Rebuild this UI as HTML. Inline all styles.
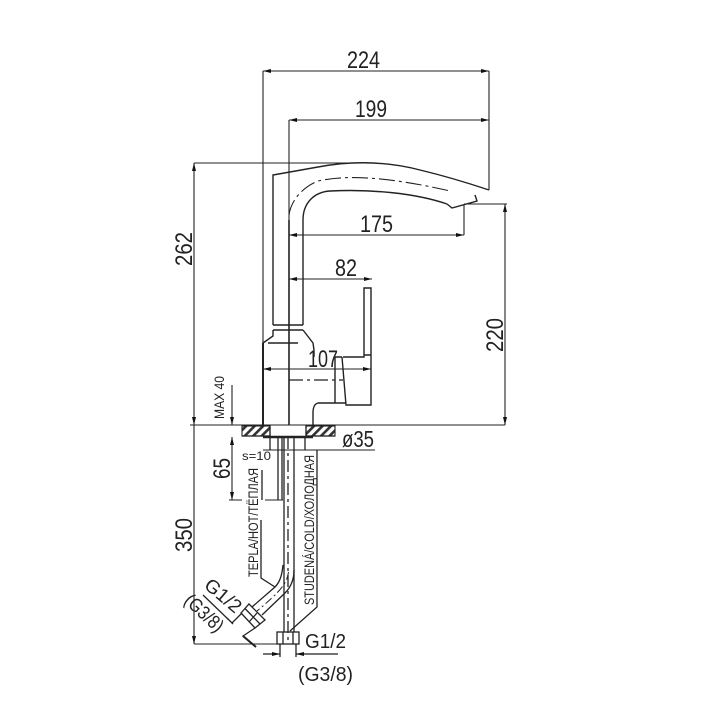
<!DOCTYPE html>
<html><head><meta charset="utf-8"><style>html,body{margin:0;padding:0;background:#fff}svg{display:block}text{font-family:"Liberation Sans",sans-serif;fill:#222}</style></head>
<body>
<svg width="720" height="720" viewBox="0 0 720 720" xmlns="http://www.w3.org/2000/svg">
<defs>
<marker id="a" viewBox="0 0 8 4" refX="8" refY="2" markerWidth="8" markerHeight="4" markerUnits="userSpaceOnUse" orient="auto-start-reverse"><path d="M8 2L0 0V4Z" fill="#111"/></marker>
<pattern id="h" width="6" height="6" patternUnits="userSpaceOnUse" patternTransform="rotate(45)"><rect width="6" height="6" fill="#fff"/><rect width="2.6" height="6" fill="#333"/></pattern>
</defs>
<g style="filter:blur(.35px)" fill="none" stroke="#222" stroke-width="1.1">
<!-- dimension lines -->
<path d="M263 71H489" marker-start="url(#a)" marker-end="url(#a)"/>
<path d="M289 120H489" marker-start="url(#a)" marker-end="url(#a)"/>
<path d="M289 235H464" marker-start="url(#a)" marker-end="url(#a)"/>
<path d="M289 279H372" marker-start="url(#a)" marker-end="url(#a)"/>
<path d="M263 369H371" marker-start="url(#a)" marker-end="url(#a)"/>
<path d="M194 163V425" marker-start="url(#a)" marker-end="url(#a)"/>
<path d="M505 204V425" marker-start="url(#a)" marker-end="url(#a)"/>
<path d="M194 437V644" marker-end="url(#a)"/>
<path d="M232 385V425" marker-end="url(#a)"/>
<path d="M232 437V500" marker-start="url(#a)" marker-end="url(#a)"/>
<path d="M263 71V425M489 71V190M194 163H360M464 205V235M464 204H507M190 425H505M194 644H277M229 500H242M265 500H283M263 450H375M194 425V437"/>
<!-- spout -->
<g stroke-width="1.4">
<path d="M289 120V220" stroke-width="1.1"/>
<path d="M289 220V425" stroke-width="1.6"/>
<path d="M273 325V175L318 167C350 161 385 161 420 170C445 176 468 183 489 190"/>
<path d="M303 325V220C303 203 314 192 330 191C370 189 415 193 447 204"/>
<path d="M447 204L452 208L477 201L475 195"/>
<path d="M273 325H303M273 330H303M273 330V336L263 343V425M303 330L313 343L314 350M268 343H298"/>
<path d="M263 343V425" stroke-width="2"/>
<path d="M314 357V350M342 357H335V403M343 357H364V288H371V405H346L342 357M364 355H371M346 403L335 403H318C314 404 313 408 313 413V425"/>
</g>
<path d="M289 215C291 200 303 187 318 181C345 175 385 176 450 191" stroke-dasharray="16 4 3 4"/>
<path d="M289 380H343" stroke-dasharray="14 4 3 4" stroke-width="1.3"/>
<!-- base -->
<rect x="242" y="426" width="28" height="10" fill="url(#h)"/>
<rect x="306" y="426" width="29" height="10" fill="url(#h)"/>
<path d="M242 436H270M306 436H335M270 425V437M306 425V437" stroke-width="1.3"/>
<path d="M263 437H313" stroke-width="2.4"/>
<path d="M270 437V450M278 437V500M282 437V500M305 437V450" stroke-width="1.3"/>
<!-- pipes -->
<g stroke-width="1.3">
<path d="M284 437V632M294 437V632"/>
<path d="M288 437V644" stroke-dasharray="12 4 3 4"/>
<path d="M283 565C282 575 280 582 275 587L252 607"/>
<path d="M294 570C294 580 291 587 285 593L262 615"/>
<path d="M288.500 572C287 583 282 590 257 611" stroke-dasharray="8 3 2 3" stroke-width="1"/>
<path d="M241 613L249 604L265 620L255 628Z"/>
<path d="M245 608.500L260 624M249 622L257 613"/>
<path d="M262 470V500M261 520V578L275 587M317 450V607L290 631"/>
<rect x="277" y="632" width="22" height="12"/>
<path d="M283 632V644M293 632V644M280 644V657M296 644V657"/>
<path d="M263 654H280" marker-end="url(#a)"/>
<path d="M296 654H338" marker-start="url(#a)"/>
<path d="M203 595L232 623L242 613M227 618L233 624M255 628L243 636L256 647"/>
<path d="M243 636L256 647" stroke-width="2"/>
</g>
</g>
<g style="filter:blur(.3px)">
<text x="347" y="68" font-size="24" textLength="33" lengthAdjust="spacingAndGlyphs">224</text>
<text x="355" y="117" font-size="24" textLength="32" lengthAdjust="spacingAndGlyphs">199</text>
<text x="360" y="232" font-size="24" textLength="33" lengthAdjust="spacingAndGlyphs">175</text>
<text x="335" y="276" font-size="24" textLength="22" lengthAdjust="spacingAndGlyphs">82</text>
<text x="308" y="367" font-size="24" textLength="30" lengthAdjust="spacingAndGlyphs">107</text>
<text x="342" y="447" font-size="23" textLength="32" lengthAdjust="spacingAndGlyphs">ø35</text>
<text x="242" y="460" font-size="12" textLength="29" lengthAdjust="spacingAndGlyphs">s=10</text>
<text x="305" y="648" font-size="20" textLength="41" lengthAdjust="spacingAndGlyphs">G1/2</text>
<text x="298" y="681" font-size="20" textLength="55" lengthAdjust="spacingAndGlyphs">(G3/8)</text>
<text transform="translate(192,266) rotate(-90)" font-size="24" textLength="34" lengthAdjust="spacingAndGlyphs">262</text>
<text transform="translate(503,352) rotate(-90)" font-size="24" textLength="34" lengthAdjust="spacingAndGlyphs">220</text>
<text transform="translate(192,552) rotate(-90)" font-size="24" textLength="34" lengthAdjust="spacingAndGlyphs">350</text>
<text transform="translate(230,479) rotate(-90)" font-size="24" textLength="21" lengthAdjust="spacingAndGlyphs">65</text>
<text transform="translate(224,419) rotate(-90)" font-size="14" textLength="43" lengthAdjust="spacingAndGlyphs">MAX 40</text>
<text transform="translate(258,577) rotate(-90)" font-size="14" textLength="109" lengthAdjust="spacingAndGlyphs">TEPLA/HOT/ТЁПЛАЯ</text>
<text transform="translate(314,605) rotate(-90)" font-size="14" textLength="150" lengthAdjust="spacingAndGlyphs">STUDENÁ/COLD/ХОЛОДНАЯ</text>
<text transform="translate(203,587) rotate(40)" font-size="19" textLength="42" lengthAdjust="spacingAndGlyphs">G1/2</text>
<text transform="translate(183,602) rotate(43)" font-size="19" textLength="46" lengthAdjust="spacingAndGlyphs">(G3/8)</text>
</g>
</svg>
</body></html>
